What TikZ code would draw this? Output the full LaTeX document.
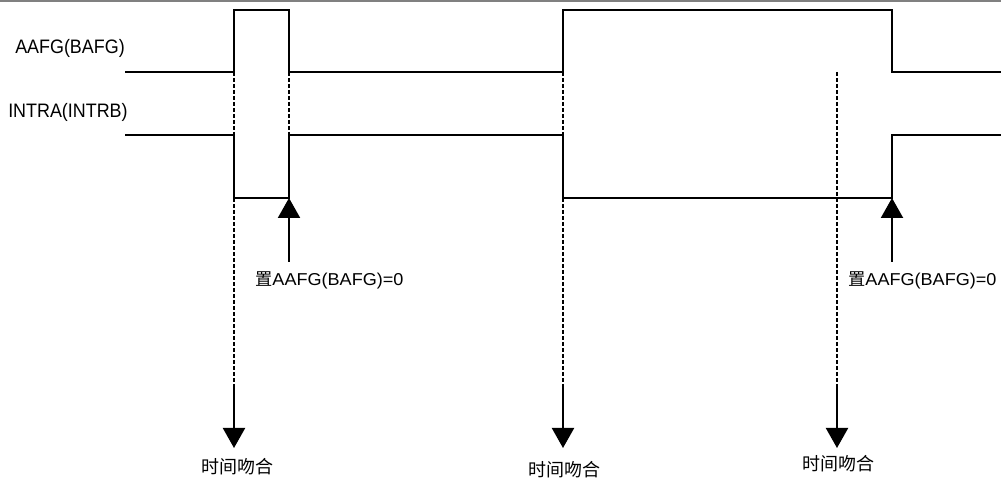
\documentclass[tikz,border=0pt]{standalone}
\usepackage{fontspec}
\setmainfont{Liberation Sans}
\newfontfamily\sig[FakeStretch=0.92]{Liberation Sans}
\newfontfamily\setf[FakeStretch=1.05]{Liberation Sans}
\newfontfamily\cjk{Noto Sans CJK SC}
\usetikzlibrary{arrows.meta}
\begin{document}
\begin{tikzpicture}[x=0.75pt,y=-0.75pt,
  wave/.style={line width=2pt,line join=miter},
  guide/.style={line width=1.5pt,dash pattern=on 3pt off 1.5pt},
  arr/.style={line width=1.6pt,-{Triangle[width=16.5pt,length=15pt]}},
  siglabel/.style={inner sep=0pt,anchor=base west,font=\sig\fontsize{14.6pt}{16pt}\selectfont},
  setlabel/.style={inner sep=0pt,anchor=base west,font=\setf\fontsize{12.9pt}{14pt}\selectfont},
  matchlabel/.style={inner sep=0pt,font=\cjk\fontsize{13.5pt}{15pt}\selectfont}]
\useasboundingbox (0,0) rectangle (1001,484);
\draw[gray,line width=1.2pt] (0,0.8) -- (1001,0.8);
% signal labels
\node[siglabel] (aafg) at (15,54) {AAFG(BAFG)};
\node[siglabel] (intra) at (8,118) {INTRA(INTRB)};
% waveforms
\draw[wave] (125,72) -- (234,72) -- (234,10) -- (289,10) -- (289,72) -- (563,72) -- (563,10) -- (892,10) -- (892,72) -- (1001,72);
\draw[wave] (125,135) -- (234,135) -- (234,198) -- (289,198) -- (289,135) -- (563,135) -- (563,198) -- (892,198) -- (892,135) -- (1001,135);
% guide coordinates
\coordinate (g1t) at (234,72);
\coordinate (g1b) at (234,386);
\coordinate (g1e) at (234,448);
\coordinate (g2t) at (289,72);
\coordinate (g2b) at (289,135);
\coordinate (g3t) at (563,72);
\coordinate (g3b) at (563,386);
\coordinate (g3e) at (563,448);
\coordinate (g4t) at (837,72);
\coordinate (g4b) at (837,386);
\coordinate (g4e) at (837,448);
\draw[guide] (g1t) -- (g1b);
\draw[guide] (g2t) -- (g2b);
\draw[guide] (g3t) -- (g3b);
\draw[guide] (g4t) -- (g4b);
\draw[arr] (g1b) -- (g1e);
\draw[arr] (g3b) -- (g3e);
\draw[arr] (g4b) -- (g4e);
% match labels
\node[matchlabel] (m1) at (237,467) {时间吻合};
\node[matchlabel] (m2) at (564,470) {时间吻合};
\node[matchlabel] (m3) at (838,464) {时间吻合};
% set labels and up arrows
\node[setlabel] (s1) at (255,286) {{\cjk 置}AAFG(BAFG)=0};
\node[setlabel] (s2) at (848,286) {{\cjk 置}AAFG(BAFG)=0};
\coordinate (u1s) at (289,262);
\coordinate (u1e) at (289,198);
\coordinate (u2s) at (892,262);
\coordinate (u2e) at (892,198);
\draw[arr] (u1s) -- (u1e);
\draw[arr] (u2s) -- (u2e);
\end{tikzpicture}
\end{document}
